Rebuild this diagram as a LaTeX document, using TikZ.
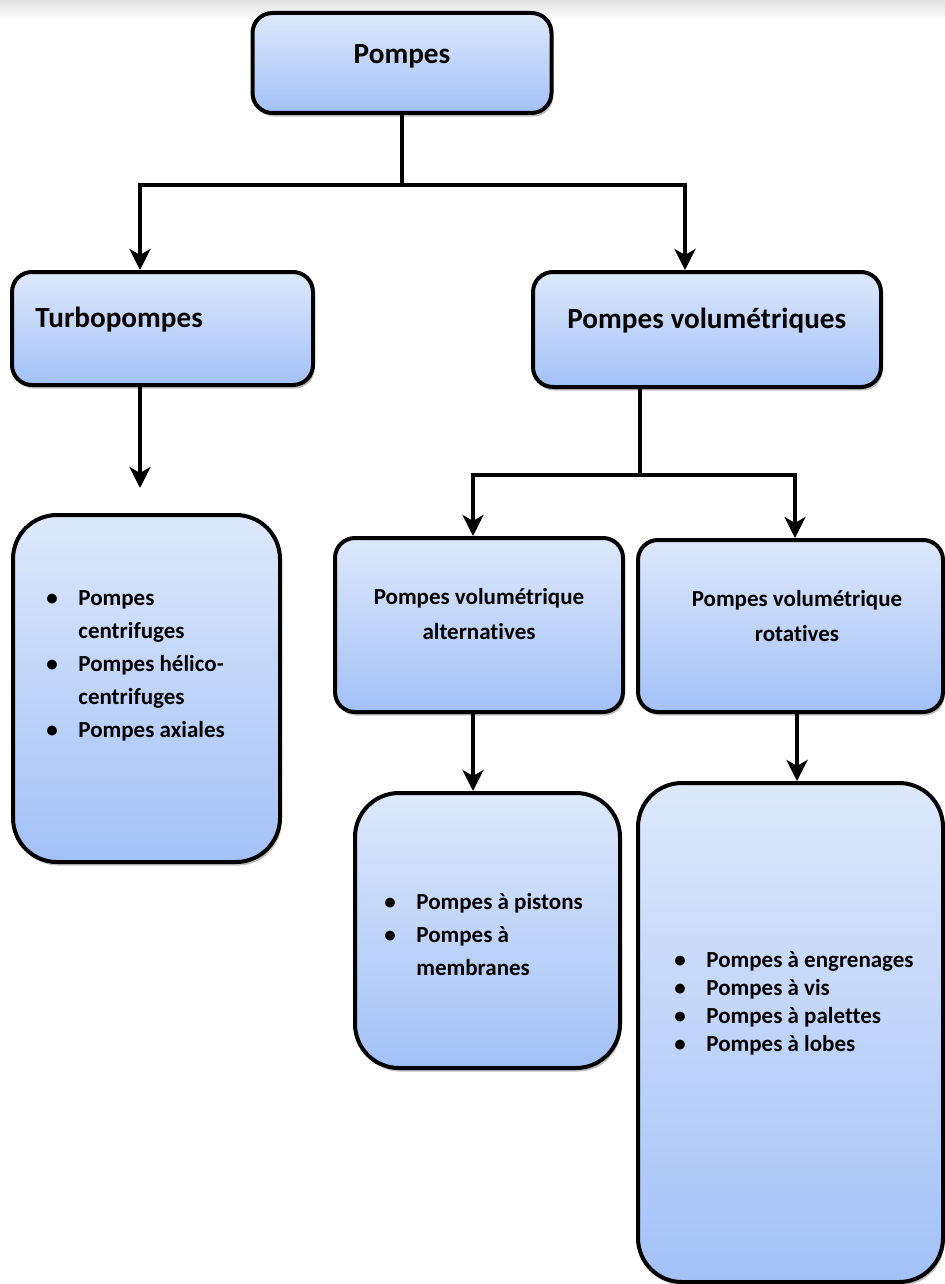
\documentclass[tikz,border=0pt]{standalone}
\usepackage{fontspec}
\setmainfont{Carlito}[Ligatures=NoCommon]
\usetikzlibrary{arrows.meta,shadows}
\definecolor{bleuhaut}{HTML}{DDE8FB}
\definecolor{bleubas}{HTML}{A3C1F7}
\newcommand{\puce}{\makebox[16pt][l]{\textbullet}}
\newcommand{\retrait}{\hspace*{16pt}}

\begin{document}
\begin{tikzpicture}[x=0.5pt, y=-0.5pt,
	boite/.style={draw, line width=2pt, rounded corners=10pt, top color=bleuhaut, bottom color=bleubas,
		drop shadow={shadow xshift=0.8pt, shadow yshift=-1.8pt, opacity=0.5}},
	gros/.style={draw, line width=2pt, rounded corners=22pt, top color=bleuhaut, bottom color=bleubas,
		drop shadow={shadow xshift=0.8pt, shadow yshift=-1.8pt, opacity=0.5}},
	grand/.style={font=\bfseries\fontsize{14.6}{17}\selectfont, inner sep=0pt},
	texte/.style={font=\bfseries\fontsize{11.5}{17.5}\selectfont, inner sep=0pt, align=center},
	liste/.style={font=\bfseries\fontsize{11.5}{16.5}\selectfont, inner sep=0pt, align=left},
	fleche/.style={line width=2pt, -{Stealth[length=10.5pt, width=10.5pt, inset=3pt]}},
	trait/.style={line width=2pt}]
	\useasboundingbox (0,0) rectangle (945,1284);
	\shade[top color=black!12, bottom color=white] (0,0) rectangle (945,20);

	\node[boite, minimum width=149.5pt, minimum height=50pt] (pompes) at (402,63) {};
	\node[boite, minimum width=150.5pt, minimum height=56.5pt] (turbo) at (162.5,328.5) {};
	\node[boite, minimum width=174pt, minimum height=57.5pt] (volum) at (707,329.5) {};
	\node[gros, minimum width=133.5pt, minimum height=173.5pt] (turboliste) at (146.5,688.5) {};
	\node[boite, minimum width=144pt, minimum height=87pt] (alt) at (479,625) {};
	\node[boite, minimum width=152.5pt, minimum height=86pt] (rot) at (790.5,626) {};
	\node[gros, minimum width=132.5pt, minimum height=137.5pt] (altliste) at (487.5,930.5) {};
	\node[gros, minimum width=152.5pt, minimum height=249.5pt] (rotliste) at (790.5,1032.5) {};

	\node[grand, anchor=base] (tpompes) at (402,64) {Pompes};
	\node[grand, anchor=base west] (tturbo) at (35,327) {Turbopompes};
	\node[grand, anchor=base west] (tvolum) at (567,328) {Pompes volumétriques};
	\node[texte, anchor=north] (talt) at (479,588) {Pompes volumétrique\\alternatives};
	\node[texte, anchor=north] (trot) at (797,590) {Pompes volumétrique\\rotatives};
	\node[liste, anchor=north west] (lturbo) at (46,590)
		{\puce Pompes\\\retrait centrifuges\\\puce Pompes hélico-\\\retrait centrifuges\\\puce Pompes axiales};
	\node[liste, anchor=north west] (lalt) at (384,893)
		{\puce Pompes à pistons\\\puce Pompes à\\\retrait membranes};
	\node[liste, anchor=north west, font=\bfseries\fontsize{11.5}{14}\selectfont] (lrot) at (674,951)
		{\puce Pompes à engrenages\\\puce Pompes à vis\\\puce Pompes à palettes\\\puce Pompes à lobes};

	\coordinate (j1) at (402,185);
	\coordinate (j2) at (640,475);
	\coordinate (t2) at (140,488);
	\draw[trait] (pompes.south) -- (j1);
	\draw[fleche] (j1) -| ([xshift=-11.25pt]turbo.north);
	\draw[fleche] (j1) -| ([xshift=-11pt]volum.north);
	\draw[fleche] (turbo.south -| t2) -- (t2);
	\draw[trait] (volum.south -| j2) -- (j2);
	\draw[fleche] (j2) -| ([xshift=-3pt]alt.north);
	\draw[fleche] (j2) -| ([xshift=2.25pt]rot.north);
	\draw[fleche] ([xshift=-3pt]alt.south) -- ([xshift=-7.25pt]altliste.north);
	\draw[fleche] ([xshift=3.25pt]rot.south) -- ([xshift=3.25pt]rotliste.north);
\end{tikzpicture}
\end{document}
